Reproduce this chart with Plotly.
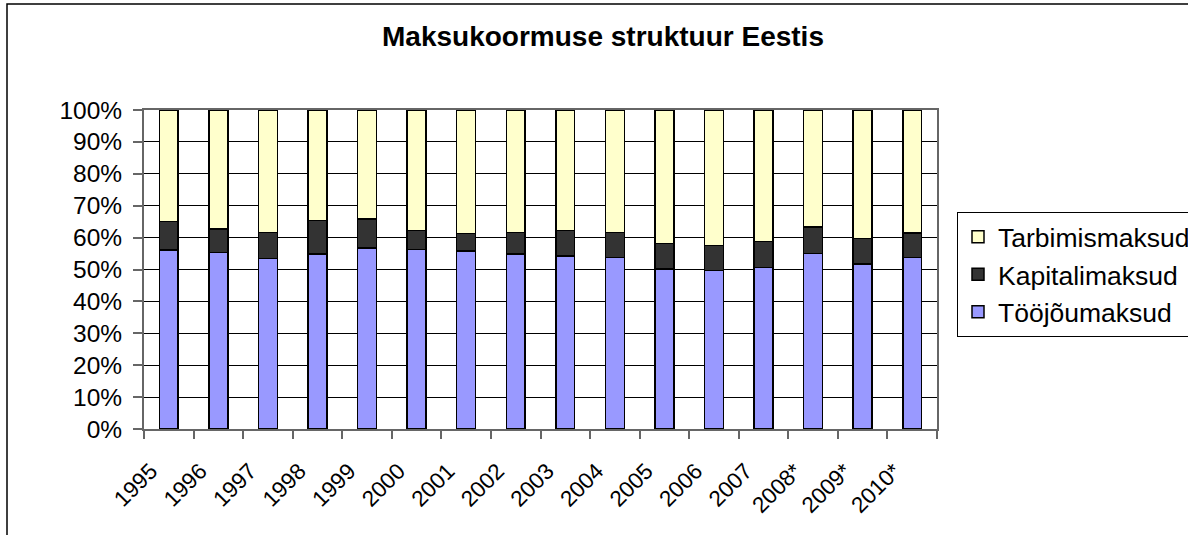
import plotly.graph_objects as go

years = ["1995", "1996", "1997", "1998", "1999", "2000", "2001", "2002",
         "2003", "2004", "2005", "2006", "2007", "2008*", "2009*", "2010*"]
toojou = [56.1, 55.3, 53.4, 54.9, 56.7, 56.2, 55.8, 54.9,
          54.3, 53.7, 50.2, 49.7, 50.7, 55.0, 51.8, 53.7]
kapital = [9.0, 7.4, 8.2, 10.4, 9.1, 6.1, 5.5, 6.7,
           7.9, 7.9, 8.0, 7.9, 8.1, 8.3, 7.9, 7.7]
tarbimis = [round(100 - a - b, 1) for a, b in zip(toojou, kapital)]

font = "Liberation Sans, Arial, sans-serif"
fig = go.Figure()
for name, vals, col, rank in [("Tööjõumaksud", toojou, "#9999FF", 3),
                              ("Kapitalimaksud", kapital, "#333333", 2),
                              ("Tarbimismaksud", tarbimis, "#FFFFCC", 1)]:
    fig.add_trace(go.Bar(x=years, y=vals, name=name, marker_color=col, legendgroup=name,
                         legendrank=rank,
                         marker_line_color="black", marker_line_width=1.5))

fig.update_layout(
    barmode="stack", bargap=0.62,
    width=1188, height=535,
    margin=dict(l=144, r=251, t=110, b=106, autoexpand=False),
    paper_bgcolor="white", plot_bgcolor="white",
    font=dict(family=font, color="black"),
    title=dict(text="<b>Maksukoormuse struktuur Eestis</b>", x=603 / 1188, xanchor="center",
               xref="container", y=1 - 36 / 535, yanchor="middle", yref="container",
               font=dict(size=28, family=font)),
    legend=dict(x=(957 - 144) / 793, y=0.68, xanchor="left", yanchor="top", traceorder="grouped",
                tracegroupgap=0, bordercolor="black", borderwidth=1,
                font=dict(size=26.5, family=font), bgcolor="white"),
    showlegend=True,
)
fig.update_yaxes(range=[0, 100], dtick=10, ticksuffix="%", showgrid=True, gridcolor="black",
                 gridwidth=1, showline=True, linecolor="#666666", linewidth=2, mirror=True,
                 ticks="outside", ticklen=9, tickcolor="#666666", tickwidth=1.5,
                 ticklabelstandoff=6, tickfont=dict(size=24.5, family=font),
                 zeroline=False)
fig.update_xaxes(showline=True, linecolor="#666666", linewidth=2, mirror=True,
                 ticks="outside", ticklen=8, tickcolor="#666666", tickwidth=1.5, tickson="boundaries",
                 tickangle=-45, tickfont=dict(size=22.5, family=font), showgrid=False,
                 ticklabelstandoff=18, ticklabelshift=-18)
fig.add_shape(type="rect", xref="paper", yref="paper", x0=(7 - 144) / 793, x1=1.5,
              y0=-0.6, y1=(429.3 - 4) / 319.3,
              line=dict(color="black", width=1.5), layer="below")
fig.write_html("out.html", config={"displayModeBar": False},
               post_script="document.body.style.margin='0';")
